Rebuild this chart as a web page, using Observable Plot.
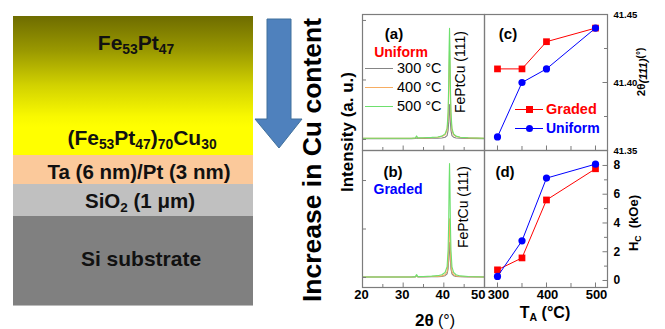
<!DOCTYPE html>
<html><head><meta charset="utf-8">
<script src="https://cdn.jsdelivr.net/npm/d3@7"></script>
<script src="https://cdn.jsdelivr.net/npm/@observablehq/plot@0.6"></script>
<style>
html,body{margin:0;padding:0;background:#fff;}
#fig{position:relative;width:665px;height:329px;overflow:hidden;font-family:"Liberation Sans",Arial,Helvetica,sans-serif;color:#000;}
.a{position:absolute;white-space:nowrap;line-height:1;}
.c{transform:translate(-50%,-50%);}
.r{transform:translate(-50%,-50%) rotate(-90deg);}
.b{font-weight:bold;}
.sb{font-size:0.66em;position:relative;top:0.3em;}
.layer{position:absolute;left:13px;width:240px;}
</style></head>
<body><div id="fig"></div>
<script>
// ---------- data ----------
const twoTheta = [20, 24, 28, 32, 33.0, 33.3, 33.6, 35, 37, 38.5, 39.5, 40.3, 40.8, 41.05, 41.2, 41.3, 41.4, 41.5, 41.6, 41.75, 42.0, 42.4, 43.0, 44, 46, 50];
// (a) Uniform
const uniform300 = [0.015,0.015,0.015,0.015,0.017,0.025,0.017,0.018,0.02,0.022,0.026,0.038,0.066,0.152,0.3,0.482,0.585,0.482,0.3,0.152,0.066,0.038,0.026,0.021,0.018,0.015];
const uniform400 = [0.02,0.02,0.02,0.02,0.026,0.045,0.026,0.027,0.032,0.038,0.05,0.079,0.153,0.375,0.76,1.234,1.5,1.234,0.76,0.375,0.153,0.079,0.05,0.035,0.027,0.02];
const uniform500 = [0.02,0.02,0.02,0.02,0.027,0.06,0.027,0.029,0.035,0.042,0.057,0.094,0.187,0.464,0.945,1.537,1.87,1.537,0.945,0.464,0.187,0.094,0.057,0.038,0.029,0.02];
// (b) Graded
const graded300 = [0.01,0.01,0.01,0.01,0.013,0.03,0.013,0.014,0.016,0.019,0.024,0.038,0.074,0.18,0.365,0.592,0.72,0.592,0.365,0.18,0.074,0.038,0.024,0.017,0.014,0.01];
const graded400 = [0.01,0.01,0.01,0.01,0.015,0.04,0.015,0.016,0.02,0.024,0.034,0.058,0.118,0.298,0.61,0.994,1.21,0.994,0.61,0.298,0.118,0.058,0.034,0.022,0.016,0.01];
const graded500 = [0.01,0.01,0.01,0.01,0.019,0.06,0.019,0.022,0.029,0.038,0.057,0.104,0.221,0.572,1.18,1.929,2.35,1.929,1.18,0.572,0.221,0.104,0.057,0.033,0.022,0.01];

const annealT = [300, 350, 400, 500];
const peakGraded = [41.41, 41.41, 41.43, 41.44];
const peakUniform = [41.36, 41.40, 41.41, 41.44];
const hcGraded = [0.74, 1.57, 5.6, 7.77];
const hcUniform = [0.28, 2.76, 7.12, 8.09];

const xrdMajor = [20, 30, 40, 50];
const xrdMinor = [25, 35, 45];
const intensityTicks = [0, 1, 2];
const tempMajor = [300, 400, 500];
const tempMinor = [350, 450];
const peakMajor = [41.35, 41.40, 41.45];
const peakMinor = [41.375, 41.425];
const hcMajor = [0, 2, 4, 6, 8];
const hcMinor = [1, 3, 5, 7];

// ---------- layout ----------
const fig = document.getElementById("fig");
const FONT = '"Liberation Sans", Arial, sans-serif';
const FRAME = "#7c7c7c";
const C300 = "#858585", C400 = "#f7ad62", C500 = "#6ee06e";
const RED = "#ff0000", BLUE = "#0000ff";

fig.innerHTML = `
<div class="layer" style="top:16px;height:139px;background:linear-gradient(to bottom,#6e6c00 0%,#9a9900 25%,#d2d200 50%,#f8f800 72%,#ffff00 80%,#ffff00 100%);"></div>
<div class="layer" style="top:155px;height:29px;background:#fbc99b;"></div>
<div class="layer" style="top:184px;height:32px;background:#c0c0c0;"></div>
<div class="layer" style="top:216px;height:89px;background:#808080;border-bottom:1px solid #bbb;"></div>
<div class="a c b" style="left:136px;top:42px;font-size:21px;color:#111">Fe<span class="sb">53</span>Pt<span class="sb">47</span></div>
<div class="a c b" style="left:142px;top:137px;font-size:21px;color:#111">(Fe<span class="sb">53</span>Pt<span class="sb">47</span>)<span class="sb">70</span>Cu<span class="sb">30</span></div>
<div class="a c b" style="left:139px;top:172px;font-size:20.5px;color:#111">Ta (6 nm)/Pt (3 nm)</div>
<div class="a c b" style="left:140px;top:201px;font-size:20.5px;color:#111">SiO<span class="sb">2</span> (1 μm)</div>
<div class="a c b" style="left:141px;top:258px;font-size:21px;color:#111">Si substrate</div>
<svg class="a" style="left:250px;top:15px" width="60" height="140"><polygon points="17,4 41,4 41,104 52,104 29,133 5,104 17,104" fill="#4f81bd" stroke="#41719c" stroke-width="1"/></svg>
<div class="a r b" style="left:312px;top:160px;font-size:26.5px;">Increase in Cu content</div>
<div class="a r b" style="left:347px;top:132px;font-size:17px;">Intensity (a. u.)</div>
`;

function place(svg, left, top) {
  svg.style.position = "absolute";
  svg.style.left = left + "px";
  svg.style.top = top + "px";
  svg.style.overflow = "visible";
  fig.appendChild(svg);
}
const rows = (xs, ys, kx, ky) => xs.map((x, k) => ({[kx]: x, [ky]: ys[k]}));

function xrdPanel(series, yDomain, H, bottomLabels) {
  const W = 122;
  const marks = series.map(([vals, color]) =>
    Plot.line(rows(twoTheta, vals, "t", "v"), {x: "t", y: "v", stroke: color, strokeWidth: 1.1}));
  marks.push(
    Plot.tickX(xrdMajor, {x: d => d, insetTop: H - 4.5, stroke: FRAME}),
    Plot.tickX(xrdMinor, {x: d => d, insetTop: H - 3, stroke: FRAME}),
    Plot.tickY(intensityTicks, {y: d => d, insetRight: W - 4, stroke: FRAME}),
    Plot.frame({stroke: FRAME, strokeWidth: 1.2})
  );
  if (bottomLabels) {
    marks.push(
      Plot.text(xrdMajor.slice(0, 3), {x: d => d, text: d => String(d), frameAnchor: "bottom", dy: 11, dx: -1, fontSize: 13, fontWeight: "bold", fontFamily: FONT}),
      Plot.text(xrdMajor.slice(3), {x: d => d, text: d => String(d), frameAnchor: "bottom", dy: 11, dx: 1, textAnchor: "end", fontSize: 13, fontWeight: "bold", fontFamily: FONT})
    );
  }
  return Plot.plot({
    width: W, height: H, margin: 0,
    x: {domain: [20, 50], axis: null},
    y: {domain: yDomain, axis: null},
    style: {overflow: "visible", fontFamily: FONT, background: "transparent"},
    marks
  });
}

place(xrdPanel([[uniform300, C300], [uniform400, C400], [uniform500, C500]], [-0.185, 2.1], 136, false), 362, 14);
place(xrdPanel([[graded300, C300], [graded400, C400], [graded500, C500]], [-0.206, 2.619], 137, true), 362, 150);

function tempPanel(graded, uniform, yDomain, H, major, minor, fmt, labelSize, bottomLabels) {
  const W = 123;
  const marks = [
    Plot.line(rows(annealT, graded, "T", "v"), {x: "T", y: "v", stroke: RED, strokeWidth: 1}),
    Plot.dot(rows(annealT, graded, "T", "v"), {x: "T", y: "v", symbol: "square", fill: RED, r: 3.8}),
    Plot.line(rows(annealT, uniform, "T", "v"), {x: "T", y: "v", stroke: BLUE, strokeWidth: 1}),
    Plot.dot(rows(annealT, uniform, "T", "v"), {x: "T", y: "v", symbol: "circle", fill: BLUE, r: 3.6}),
    Plot.tickX(tempMajor, {x: d => d, insetTop: H - 4.5, stroke: FRAME}),
    Plot.tickX(tempMinor, {x: d => d, insetTop: H - 4, stroke: FRAME}),
    Plot.tickY(major, {y: d => d, insetLeft: W - 4.5, stroke: FRAME}),
    Plot.tickY(minor, {y: d => d, insetLeft: W - 3, stroke: FRAME}),
    Plot.frame({stroke: FRAME, strokeWidth: 1.2}),
    Plot.text(major, {y: d => d, text: fmt, frameAnchor: "right", textAnchor: "start", dx: 6, fontSize: labelSize, fontWeight: "bold", fontFamily: FONT})
  ];
  if (bottomLabels) {
    marks.push(Plot.text(tempMajor, {x: d => d, text: d => String(d), frameAnchor: "bottom", dy: 11, dx: 1, fontSize: 13, fontWeight: "bold", fontFamily: FONT}));
  }
  return Plot.plot({
    width: W, height: H, margin: 0,
    x: {domain: [273.5, 524.5], axis: null},
    y: {domain: yDomain, axis: null},
    style: {overflow: "visible", fontFamily: FONT, background: "transparent"},
    marks
  });
}

place(tempPanel(peakGraded, peakUniform, [41.35, 41.45], 136, peakMajor, peakMinor, d => d.toFixed(2), 9.5, false), 484, 14);
place(tempPanel(hcGraded, hcUniform, [-0.487, 9.04], 137, hcMajor, hcMinor, d => String(d), 12, true), 484, 150);

// ---------- annotations ----------
const ann = document.createElement("div");
ann.innerHTML = `
<div class="a c b" style="left:394px;top:33px;font-size:15px;">(a)</div>
<div class="a c b" style="left:401px;top:52px;font-size:14px;color:${RED}">Uniform</div>
<div class="a" style="left:365px;top:68px;width:28px;border-top:1.2px solid ${C300}"></div>
<div class="a" style="left:365px;top:87px;width:28px;border-top:1.2px solid ${C400}"></div>
<div class="a" style="left:365px;top:106px;width:28px;border-top:1.2px solid ${C500}"></div>
<div class="a" style="left:397px;top:61px;font-size:14.5px;">300 °C</div>
<div class="a" style="left:397px;top:80px;font-size:14.5px;">400 °C</div>
<div class="a" style="left:397px;top:99px;font-size:14.5px;">500 °C</div>
<div class="a r" style="left:460px;top:72px;font-size:14px;">FePtCu (111)</div>

<div class="a c b" style="left:393px;top:171px;font-size:15px;">(b)</div>
<div class="a c b" style="left:398px;top:189px;font-size:14px;color:${BLUE}">Graded</div>
<div class="a r" style="left:463px;top:207px;font-size:14px;">FePtCu (111)</div>

<div class="a c b" style="left:508px;top:33px;font-size:15px;">(c)</div>
<div class="a" style="left:515px;top:109px;width:28px;border-top:1px solid ${RED}"></div>
<div class="a" style="left:526px;top:106px;width:7px;height:7px;background:${RED}"></div>
<div class="a" style="left:515px;top:128px;width:28px;border-top:1px solid ${BLUE}"></div>
<div class="a" style="left:525.5px;top:124.5px;width:7.5px;height:7.5px;border-radius:50%;background:${BLUE}"></div>
<div class="a b" style="left:546px;top:102px;font-size:14.5px;color:${RED}">Graded</div>
<div class="a b" style="left:546px;top:121px;font-size:14px;color:${BLUE}">Uniform</div>

<div class="a c b" style="left:505px;top:171px;font-size:15px;">(d)</div>

<div class="a c" style="left:435px;top:320px;font-size:16px;"><span class="b" style="font-size:17px">2θ</span> (°)</div>
<div class="a c b" style="left:545px;top:313px;font-size:16px;">T<span class="sb">A</span> (°C)</div>
<div class="a r b" style="left:642px;top:72px;font-size:11.5px;">2θ<span style="font-style:italic;position:relative;top:2px">(111)</span><span style="font-size:10px;position:relative;top:-1px">(°)</span></div>
<div class="a r b" style="left:633px;top:223px;font-size:13px;">H<span class="sb">C</span>&nbsp;&nbsp;(kOe)</div>
`;
while (ann.firstElementChild) fig.appendChild(ann.firstElementChild);
</script></body></html>
